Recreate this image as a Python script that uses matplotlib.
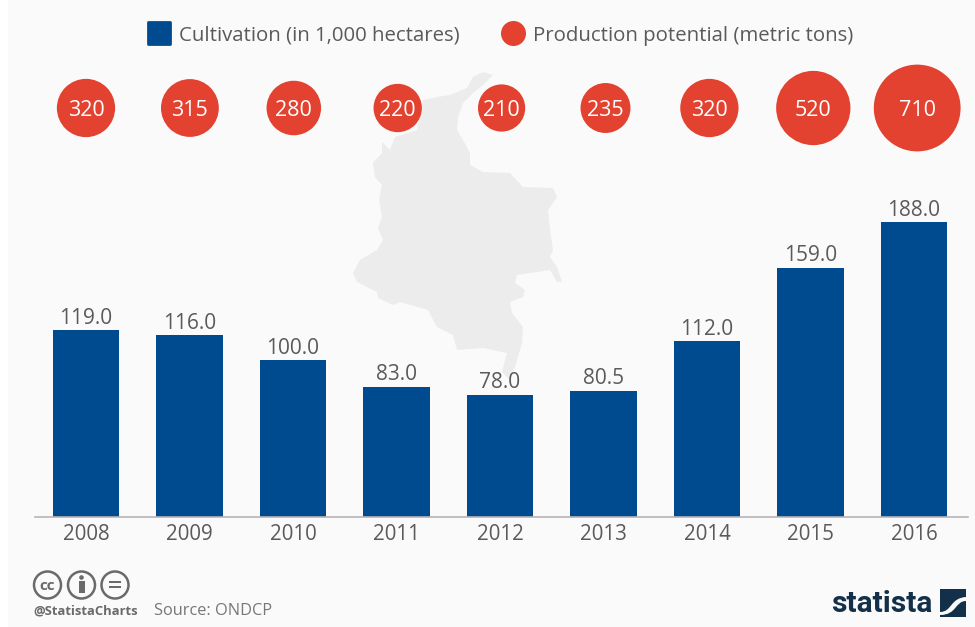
import matplotlib
matplotlib.use("Agg")
import matplotlib.pyplot as plt
import numpy as np
from matplotlib.lines import Line2D
from matplotlib.markers import MarkerStyle
from matplotlib.patches import Circle, PathPatch, Polygon, Rectangle
from matplotlib.path import Path
from matplotlib.transforms import Affine2D

plt.rcParams['font.family'] = ['Open Sans', 'DejaVu Sans']

years = ["2008", "2009", "2010", "2011", "2012", "2013", "2014", "2015", "2016"]
cultivation = [119.0, 116.0, 100.0, 83.0, 78.0, 80.5, 112.0, 159.0, 188.0]
production = [320, 315, 280, 220, 210, 235, 320, 520, 710]

BLUE = "#004a8f"
RED = "#e2422f"
GREY = "#5a5a5a"
W, H = 975, 627
BASE_Y = 517
PX_PER_UNIT = 1.569
STEP = 103.5
FIRST_X = 86
BUBBLE_ROW = (BASE_Y - 108) / PX_PER_UNIT
BUBBLE_STEP = 103.9 / STEP

# rough outline of Colombia, in pixels from the top left corner
map_x = [483, 493, 483, 473, 463, 458, 457, 463, 470, 470, 483, 510, 523, 553, 557,
         548, 550, 553, 550, 557, 562, 557, 550, 517, 515, 525, 523, 510, 512, 523,
         522, 515, 510, 502, 507, 483, 457, 453, 437, 428, 400, 393, 378, 377, 357,
         353, 360, 377, 383, 378, 382, 379, 382, 375, 373, 382, 382, 390, 395, 417,
         423, 437, 450, 467, 473]
map_y = [72, 75, 85, 93, 103, 117, 130, 140, 153, 165, 172, 173, 187, 188, 197,
         210, 230, 250, 257, 267, 282, 282, 270, 275, 283, 290, 297, 302, 313, 327,
         343, 367, 380, 372, 353, 348, 350, 335, 327, 310, 302, 305, 298, 292, 282,
         273, 260, 250, 240, 228, 217, 200, 185, 177, 163, 153, 142, 150, 137, 130,
         100, 97, 95, 88, 77]

fig = plt.figure(figsize=(W / 100, H / 100), dpi=100, facecolor="white")
ax = fig.add_axes([0, 0, 1, 1])
ax.set_xlim(-FIRST_X / STEP, (W - FIRST_X) / STEP)
ax.set_ylim(-(H - BASE_Y) / PX_PER_UNIT, BASE_Y / PX_PER_UNIT)
ax.patch.set_alpha(0)

# everything decorative is placed in pixels
px = Affine2D().scale(1, -1).translate(0, H)

ax.add_patch(Rectangle((8, 0), W - 8, H, transform=px, color="#fafafa", zorder=0, lw=0))
ax.add_patch(Polygon(np.column_stack([map_x, map_y]), closed=True, transform=px,
                     facecolor="#ececec", edgecolor="none", zorder=1))

x = np.arange(len(years))
bars = ax.bar(x, cultivation, width=0.64, color=BLUE, zorder=2)
ax.bar_label(bars, fmt="%.1f", padding=1, fontsize=15, color=GREY)

# bubble area follows the production value
bubble_x = x * BUBBLE_STEP
ax.scatter(bubble_x, [BUBBLE_ROW] * len(x), s=[5.5 * v for v in production],
           color=RED, linewidths=0, zorder=3)
for xi, v in zip(bubble_x, production):
    ax.text(xi, BUBBLE_ROW, str(v), ha="center", va="center_baseline", color="white",
            fontsize=15.5, zorder=4)

for name in ["top", "left", "right"]:
    ax.spines[name].set_visible(False)
ax.spines["bottom"].set_position(("data", 0))
ax.spines["bottom"].set_bounds((35 - FIRST_X) / STEP, (968 - FIRST_X) / STEP)
ax.spines["bottom"].set_color("#b5b5b5")
ax.spines["bottom"].set_linewidth(1.2)
ax.set_xticks(x, years)
ax.tick_params(axis="x", length=0, pad=5, labelsize=14.8, labelcolor=GREY)
ax.set_yticks([])

square = MarkerStyle("s", joinstyle="round")
handles = [Line2D([], [], marker=square, ls="", color=BLUE, markersize=16, markeredgewidth=2),
           Line2D([], [], marker="o", ls="", color=RED, markersize=18, markeredgewidth=0)]
ax.legend(handles, ["Cultivation (in 1,000 hectares)", "Production potential (metric tons)"],
          ncol=2, frameon=False, fontsize=14.7, labelcolor=GREY, handletextpad=0.38,
          columnspacing=2.0, loc="center", bbox_to_anchor=(500 / W, 1 - 35.5 / H),
          bbox_transform=fig.transFigure, borderpad=0, handlelength=1.2)

# creative commons badges
ICON = "#6a6a6a"
for cx in [47.5, 81.5, 115]:
    ax.add_patch(Circle((cx, 585), 13.5, transform=px, facecolor="none", edgecolor=ICON,
                        lw=1.8, zorder=3))
ax.text(47.5, 585, "cc", transform=px, ha="center", va="center_baseline", fontsize=11,
        fontweight="bold", color=ICON)
ax.add_patch(Circle((81.5, 577.5), 2.3, transform=px, color=ICON, lw=0))
ax.add_patch(Rectangle((78.5, 581), 6, 12, transform=px, color=ICON, lw=0))
ax.add_patch(Rectangle((109, 581), 12, 2.4, transform=px, color=ICON, lw=0))
ax.add_patch(Rectangle((109, 586), 12, 2.4, transform=px, color=ICON, lw=0))
ax.text(33, 611.5, "@StatistaCharts", transform=px, ha="left", va="center", fontsize=9.4,
        fontweight="bold", color=ICON)
ax.text(154, 611, "Source: ONDCP", transform=px, ha="left", va="center", fontsize=11.8,
        color="#777777")

# statista wordmark and logo square
ax.text(932, 603.5, "statista", transform=px, ha="right", va="center", fontsize=21.5,
        fontweight="bold", family=["Roboto", "DejaVu Sans"], color="#12304a")
ax.add_patch(Rectangle((940, 589), 26, 28, transform=px, facecolor="#12304a",
                       edgecolor="none", zorder=3))
wave = Path([(940, 612), (952, 612), (950, 598), (966, 597), (966, 601), (955, 601),
             (957, 615), (940, 615), (940, 612)],
            [Path.MOVETO, Path.CURVE4, Path.CURVE4, Path.CURVE4, Path.LINETO,
             Path.CURVE4, Path.CURVE4, Path.CURVE4, Path.CLOSEPOLY])
ax.add_patch(PathPatch(wave, transform=px, facecolor="#fafafa", edgecolor="none", zorder=4))

fig.savefig("out.png", dpi=100, facecolor=fig.get_facecolor())
